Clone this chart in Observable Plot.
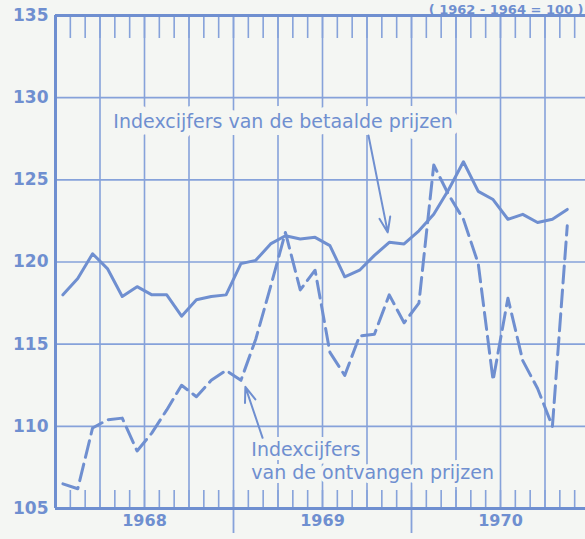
<!DOCTYPE html>
<html><head><meta charset="utf-8">
<script src="https://cdn.jsdelivr.net/npm/d3@7"></script>
<script src="https://cdn.jsdelivr.net/npm/@observablehq/plot@0.6"></script>
<style>
html,body{margin:0;padding:0;background:#f4f6f3;}
#chart svg text{font-family:"DejaVu Sans",sans-serif;}
</style></head><body><div id="chart"></div>
<script>
// Monthly index numbers, Jan 1968 – Nov 1970 (1962-1964 = 100)
const betaald = [
  118.0, 119.0, 120.5, 119.6, 117.9, 118.5, 118.0, 118.0, 116.7, 117.7, 117.9, 118.0,
  119.9, 120.1, 121.1, 121.6, 121.4, 121.5, 121.0, 119.1, 119.5, 120.4, 121.2, 121.1,
  121.9, 122.9, 124.4, 126.1, 124.3, 123.8, 122.6, 122.9, 122.4, 122.6, 123.2
];
const ontvangen = [
  106.5, 106.2, 109.9, 110.4, 110.5, 108.5, 109.6, 111.0, 112.5, 111.8, 112.8, 113.4,
  112.8, 115.3, 118.5, 121.8, 118.3, 119.5, 114.5, 113.1, 115.5, 115.6, 118.0, 116.3,
  117.5, 125.9, 124.1, 122.6, 119.9, 112.8, 117.8, 114.0, 112.3, 110.0, 122.2
];
const yTicks = [105, 110, 115, 120, 125, 130, 135];
const years = ["1968", "1969", "1970"];
const noteText = "( 1962 - 1964 = 100 )";
const labelBetaald = ["Indexcijfers van de betaalde prijzen"];
const labelOntvangen = ["Indexcijfers", "van de ontvangen prijzen"];

// annotation anchors (month index, index value)
const annBetaald = [{x: 3.9, y: 128.55}];
const annOntvangen = [{x: 13.2, y: 108.55}, {x: 13.2, y: 107.15}];
const arrows = [
  {x1: 21.1, y1: 127.7, x2: 22.4, y2: 121.8},
  {x1: 13.96, y1: 109.3, x2: 12.8, y2: 112.4}
];

const ink = "#6f8fd0";
const grid = "#86a2da";
const bg = "#f4f6f3";

const monthIdx = betaald.map((_, i) => i + 0.5);
const monthBounds = d3.range(1, 36);
const quarters = d3.range(3, 36, 3);
const serieB = betaald.map((v, i) => ({m: monthIdx[i], v}));
const serieO = ontvangen.map((v, i) => ({m: i + 0.5, v}));

const W = 585, H = 539, mT = 15, mB = 31, mL = 55;
const frameH = H - mT - mB;

const chart = Plot.plot({
  width: W, height: H,
  marginLeft: mL, marginRight: 0, marginTop: mT, marginBottom: mB,
  style: {background: bg, overflow: "visible"},
  x: {type: "linear", domain: [0, 36 * 530 / 534], axis: null},
  y: {domain: [105, 135], axis: null},
  marks: [
    Plot.ruleY(yTicks.slice(1, -1), {stroke: grid, strokeWidth: 1.6}),
    Plot.ruleX(quarters, {stroke: grid, strokeWidth: 1.6}),
    Plot.ruleX(monthBounds, {stroke: grid, strokeWidth: 1.6, insetBottom: frameH - 23}),
    Plot.ruleX(monthBounds, {stroke: grid, strokeWidth: 1.6, insetTop: frameH - 18}),
    Plot.axisX([12, 24], {anchor: "bottom", tickSize: 25, tickFormat: () => "", stroke: grid, strokeWidth: 1.8}),
    Plot.ruleY([105, 135], {stroke: ink, strokeWidth: 3}),
    Plot.ruleX([0], {stroke: ink, strokeWidth: 3}),
    Plot.text(yTicks, {ariaLabel: "ylab", y: d => d, text: d => String(d), frameAnchor: "left", textAnchor: "end", dx: -7, fontSize: 17, fontWeight: "bold", fill: ink}),
    Plot.text(years, {ariaLabel: "years", x: (d, i) => i * 12 + 6, text: d => d, frameAnchor: "bottom", dy: 17, fontSize: 16, fontWeight: "bold", fill: ink}),
    Plot.text([noteText], {ariaLabel: "note", frameAnchor: "top-right", textAnchor: "end", lineAnchor: "bottom", dx: -2, dy: -2, text: d => d, fontSize: 13, fontWeight: "bold", fill: ink}),
    Plot.text(labelBetaald, {ariaLabel: "ann", x: annBetaald.map(d => d.x), y: annBetaald.map(d => d.y), text: d => d, textAnchor: "start", fontSize: 19, fill: ink, stroke: bg, strokeWidth: 14}),
    Plot.text(labelOntvangen, {ariaLabel: "ann", x: annOntvangen.map(d => d.x), y: annOntvangen.map(d => d.y), text: d => d, textAnchor: "start", fontSize: 19, fill: ink, stroke: bg, strokeWidth: 8}),
    Plot.arrow(arrows, {x1: "x1", y1: "y1", x2: "x2", y2: "y2", stroke: ink, strokeWidth: 2, headLength: 12, headAngle: 40}),
    Plot.line(serieO, {x: "m", y: "v", stroke: ink, strokeWidth: 3, strokeDasharray: "17,7", strokeLinejoin: "round"}),
    Plot.line(serieB, {x: "m", y: "v", stroke: ink, strokeWidth: 3, strokeLinejoin: "round"})
  ]
});
document.getElementById("chart").append(chart);
</script></body></html>
